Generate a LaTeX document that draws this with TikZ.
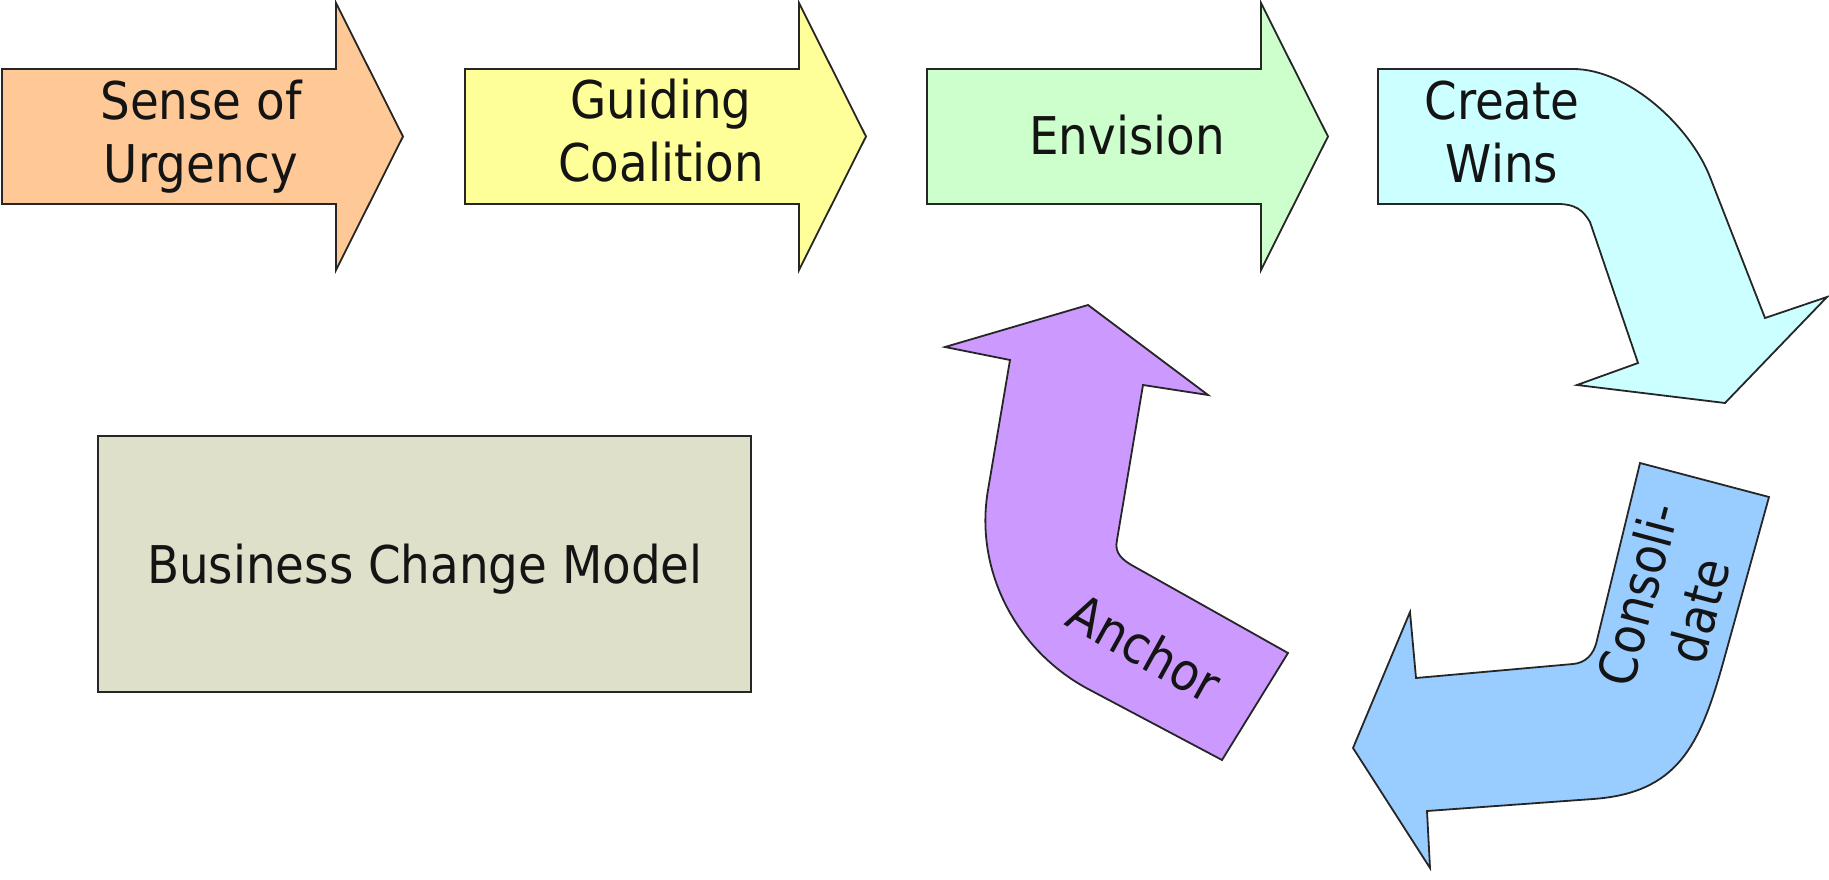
\documentclass[tikz,border=0pt]{standalone}
\usepackage{fontspec}
\setmainfont{DejaVu Sans Condensed}
\definecolor{urgfill}{HTML}{FFC997}
\definecolor{guidefill}{HTML}{FFFF99}
\definecolor{envfill}{HTML}{CCFFCC}
\definecolor{winfill}{HTML}{CCFFFF}
\definecolor{consfill}{HTML}{99CCFF}
\definecolor{anchfill}{HTML}{CC99FF}
\definecolor{boxfill}{HTML}{DEE0C9}
\begin{document}
\begin{tikzpicture}[x=1pt,y=-1pt,
  blockshape/.style={draw=black!85, line width=1.8pt, line join=miter},
  lbl/.style={inner sep=0pt, align=center, text=black!92,
    font=\fontsize{52}{63}\selectfont}]
\useasboundingbox (0,0) rectangle (1829,880);

% straight step arrows along the top
\filldraw[blockshape, fill=urgfill]
  (2,69) -- (336,69) -- (336,3) -- (403,136.5) -- (336,270) -- (336,204) -- (2,204) -- cycle;
\filldraw[blockshape, fill=guidefill]
  (465,69) -- (799,69) -- (799,3) -- (866,136.5) -- (799,270) -- (799,204) -- (465,204) -- cycle;
\filldraw[blockshape, fill=envfill]
  (927,69) -- (1261,69) -- (1261,3) -- (1328,136.5) -- (1261,270) -- (1261,204) -- (927,204) -- cycle;

% bent arrow turning down
\filldraw[blockshape, fill=winfill]
  (1378,69) -- (1573,69) .. controls (1628,69) and (1690,126) .. (1710,177)
  -- (1765,318) -- (1827,297) -- (1725,403) -- (1577,385) -- (1638,363)
  -- (1590,222) .. controls (1583,210) and (1575,204) .. (1558,204)
  -- (1378,204) -- cycle;

% bent arrow turning left
\filldraw[blockshape, fill=consfill]
  (1640,463) -- (1769,497) -- (1723,663) .. controls (1700,745) and (1678,793) .. (1593,799)
  -- (1427,811) -- (1430,868) -- (1353,748) -- (1410,612) -- (1416,678)
  -- (1573,664) .. controls (1585,663) and (1594,655) .. (1597,640) -- cycle;

% bent arrow turning up
\filldraw[blockshape, fill=anchfill]
  (1088,305) -- (1208,395) -- (1143,385) -- (1117,540)
  .. controls (1114,553) and (1122,560) .. (1135,567)
  -- (1288,653) -- (1222,760) -- (1090,690)
  .. controls (1017,652) and (974,571) .. (988,490)
  -- (1010,360) -- (945,347) -- cycle;

% title box
\filldraw[blockshape, fill=boxfill] (98,436) rectangle (751,692);

% labels
\node[lbl] (urgency) at (201,137) {Sense of\\Urgency};
\node[lbl] (coalition) at (661,131) {Guiding\\Coalition};
\node[lbl, anchor=base] (envision) at (1127,154) {Envision};
\node[lbl] (wins) at (1502,132) {Create\\Wins};
\node[lbl, rotate=75] (consolidate) at (1668,602) {Consoli-\\date};
\node[lbl, rotate=-29] (anchor) at (1145,648) {Anchor};
\node[lbl, anchor=base] (model) at (425,583) {Business Change Model};
\end{tikzpicture}
\end{document}
